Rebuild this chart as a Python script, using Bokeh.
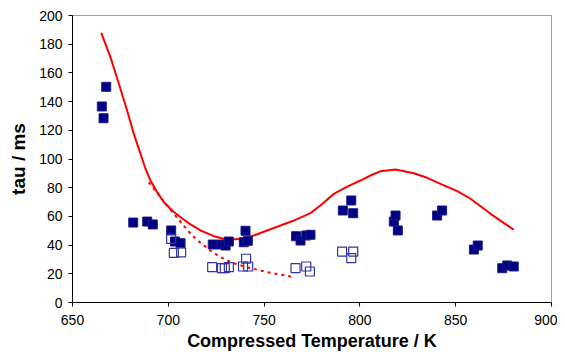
from bokeh.plotting import figure
from bokeh.embed import file_html
from bokeh.resources import INLINE
from bokeh.models import FixedTicker, Range1d

# Filled squares (measured tau)
filled_T = [665.3, 666.2, 667.6, 681.7, 689.0, 691.9, 701.5, 703.5, 706.4,
            723.2, 728.0, 729.9, 731.6, 739.4, 740.3, 741.5,
            766.7, 769.0, 772.0, 774.2, 791.1, 795.5, 796.5,
            817.7, 818.6, 819.8, 840.3, 842.9, 859.5, 861.5,
            874.3, 876.9, 880.3]
filled_tau = [136.6, 128.4, 150.3, 55.7, 56.4, 54.4, 50.2, 42.5, 41.3,
              40.4, 40.4, 39.7, 42.5, 42.0, 50.0, 43.0,
              46.2, 43.2, 46.7, 47.2, 64.1, 71.1, 62.2,
              56.4, 60.6, 50.2, 60.6, 64.1, 36.9, 39.7,
              23.9, 25.8, 25.1]

# Open squares
open_T = [701.5, 702.9, 706.7, 722.9, 728.0, 729.5, 731.6, 739.0, 740.6, 741.7,
          766.4, 772.0, 773.9, 790.7, 795.5, 796.5]
open_tau = [44.4, 34.6, 35.0, 24.6, 23.9, 23.9, 24.6, 25.1, 30.5, 25.1,
            23.9, 25.1, 21.6, 35.5, 30.9, 35.5]

# Solid model curve
solid_T = [665.0, 669.8, 674.2, 678.5, 682.0, 685.5, 688.1, 690.7, 694.2, 697.7,
           702.0, 706.4, 711.6, 716.8, 723.8, 730.7, 739.4, 744.6, 751.6, 758.6,
           765.5, 774.2, 779.4, 786.4, 793.4, 800.3, 805.5, 810.8, 818.6, 828.1,
           835.1, 842.1, 850.8, 857.7, 868.2, 880.3]
solid_tau = [187.9, 171.0, 152.4, 133.8, 117.5, 103.6, 93.2, 85.0, 76.9, 69.9,
             64.1, 59.4, 54.4, 50.2, 46.2, 43.7, 44.4, 46.7, 50.2, 53.7,
             57.1, 62.3, 67.6, 75.7, 80.8, 85.0, 88.5, 91.5, 92.7, 90.1,
             86.9, 82.7, 77.6, 72.3, 61.8, 50.7]

# Dotted model curve
dot_T = [689.8, 693.3, 695.9, 699.4, 702.9, 707.3, 711.6, 716.8, 722.0, 726.4,
         730.7, 736.0, 741.2, 751.6, 758.6, 765.5]
dot_tau = [83.8, 78.0, 73.4, 67.6, 61.8, 54.8, 47.9, 41.6, 36.2, 32.3,
           29.3, 26.5, 24.6, 21.1, 19.5, 17.6]

x_ticks = [650, 700, 750, 800, 850, 900]
y_ticks = [0, 20, 40, 60, 80, 100, 120, 140, 160, 180, 200]

p = figure(width=557, height=354, output_backend="svg", toolbar_location=None,
           x_range=Range1d(650, 900), y_range=Range1d(0, 200),
           min_border_left=72, min_border_right=6, min_border_top=15, min_border_bottom=52)
p.frame_width = 479
p.frame_height = 287

p.line(solid_T, solid_tau, line_color="#ff0000", line_width=2)
p.line(dot_T, dot_tau, line_color="#ff0000", line_width=2, line_dash="3 4")

p.scatter(filled_T, filled_tau, marker="square", size=9, fill_color="#000080",
          line_color="#1a1a8c", line_width=1)
p.scatter(open_T, open_tau, marker="square", size=9, fill_color="white",
          fill_alpha=0.0, line_color="#3333a0", line_width=1.2)

p.xgrid.visible = False
p.ygrid.visible = False
p.outline_line_color = "#a0a0a0"
p.outline_line_width = 1

for ax in (p.xaxis[0], p.yaxis[0]):
    ax.axis_line_color = "black"
    ax.major_tick_line_color = "black"
    ax.major_tick_out = 4
    ax.major_tick_in = 0
    ax.minor_tick_line_color = None
    ax.major_label_text_font = "Liberation Sans"
    ax.major_label_text_font_size = "14px"
    ax.major_label_text_color = "black"
    ax.axis_label_text_font = "Liberation Sans"
    ax.axis_label_text_font_style = "bold"
    ax.axis_label_text_color = "black"

p.xaxis.axis_label_text_font_size = "18px"
p.yaxis.axis_label_text_font_size = "19px"
p.xaxis.ticker = FixedTicker(ticks=x_ticks)
p.yaxis.ticker = FixedTicker(ticks=y_ticks)
p.xaxis.axis_label = "Compressed Temperature / K"
p.yaxis.axis_label = "tau / ms"
p.xaxis.major_label_standoff = 8
p.xaxis.axis_label_standoff = 3
p.yaxis.major_label_standoff = 6
p.yaxis.axis_label_standoff = 7

open("out.html", "w").write(file_html(p, INLINE))
